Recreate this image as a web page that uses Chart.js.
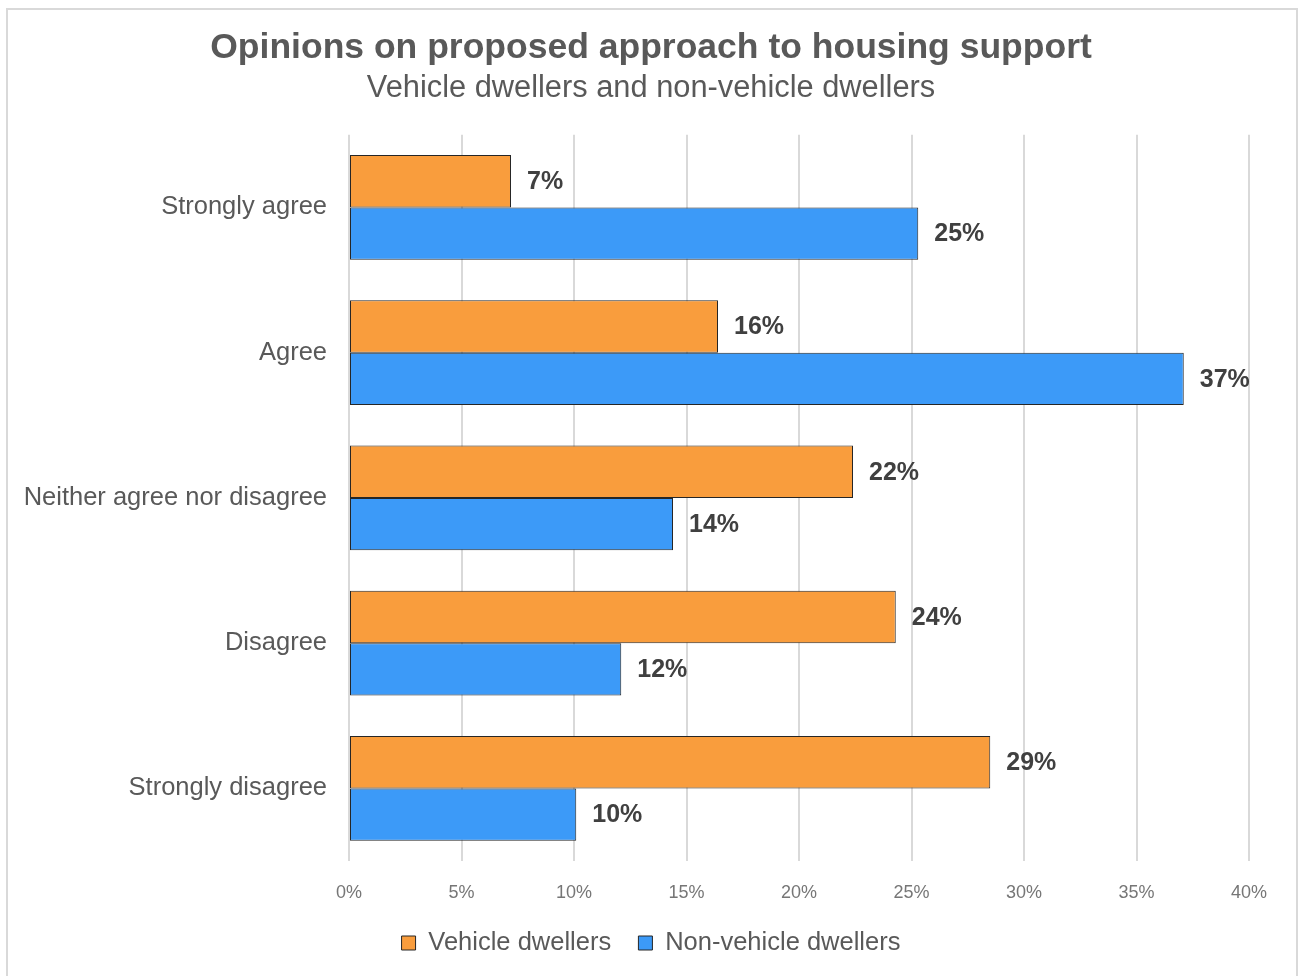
<!DOCTYPE html>
<html>
<head>
<meta charset="utf-8">
<script src="https://cdn.jsdelivr.net/npm/chart.js@4/dist/chart.umd.min.js"></script>
<style>
  html, body { margin: 0; padding: 0; background: #fff; }
  #frame {
    position: absolute; left: 6px; top: 8px;
    width: 1292px; height: 980px;
    box-sizing: border-box;
    border: 2px solid #d9d9d9;
  }
  #wrap { position: absolute; left: 0; top: 0; width: 1298px; height: 976px; }
</style>
</head>
<body>
<div id="frame"></div>
<div id="wrap"><canvas id="chart" width="1298" height="976"></canvas></div>
<script>
// answers and shares per group (percent)
const categories = ['Strongly agree', 'Agree', 'Neither agree nor disagree', 'Disagree', 'Strongly disagree'];
const vehicleDwellers = [7.2, 16.4, 22.4, 24.3, 28.5];
const nonVehicleDwellers = [25.3, 37.1, 14.4, 12.1, 10.1];
const xTicks = [0, 5, 10, 15, 20, 25, 30, 35, 40];

const FONT = "'Liberation Sans', Arial, sans-serif";
const GREY = '#595959';

// value labels at the end of each bar
const barLabels = {
  id: 'barLabels',
  afterDatasetsDraw(chart) {
    const ctx = chart.ctx;
    ctx.save();
    ctx.font = 'bold 25px ' + FONT;
    ctx.fillStyle = '#404040';
    ctx.textAlign = 'left';
    ctx.textBaseline = 'middle';
    chart.data.datasets.forEach((ds, i) => {
      chart.getDatasetMeta(i).data.forEach((bar, j) => {
        ctx.fillText(Math.round(ds.data[j]) + '%', bar.x + 16, bar.y + 1);
      });
    });
    ctx.restore();
  }
};

const ctx = document.getElementById('chart');
new Chart(ctx, {
  type: 'bar',
  data: {
    labels: categories,
    datasets: [
      {
        label: 'Vehicle dwellers',
        data: vehicleDwellers,
        backgroundColor: '#F99D3D',
        borderColor: '#262626',
        borderWidth: 1,
        borderSkipped: false,
      },
      {
        label: 'Non-vehicle dwellers',
        data: nonVehicleDwellers,
        backgroundColor: '#3C9AF8',
        borderColor: '#262626',
        borderWidth: 1,
        borderSkipped: false,
      },
    ],
  },
  options: {
    responsive: false,
    animation: false,
    indexAxis: 'y',
    categoryPercentage: 0.72,
    barPercentage: 1,
    layout: { padding: { top: 10, right: 0, bottom: 10.25, left: 4 } },
    scales: {
      x: {
        min: 0,
        max: 40,
        afterBuildTicks: (scale) => { scale.ticks = xTicks.map((v) => ({ value: v })); },
        afterFit: (scale) => { scale.height = 42; },
        ticks: {
          callback: (v) => v + '%',
          font: { family: FONT, size: 18 },
          color: '#767676',
          padding: 21,
        },
        grid: { color: '#d9d9d9', lineWidth: 2, drawTicks: false },
        border: { display: false },
      },
      y: {
        afterFit: (scale) => { scale.width = 345; },
        ticks: {
          font: { family: FONT, size: 25.5 },
          color: GREY,
          padding: 22,
        },
        grid: { display: false, drawTicks: false },
        border: { display: false },
      },
      // empty strip on the right so the plot ends before the frame edge
      yRight: {
        type: 'linear',
        position: 'right',
        afterFit: (scale) => { scale.width = 49; },
        ticks: { display: false },
        grid: { display: false, drawTicks: false },
        border: { display: false },
      },
    },
    plugins: {
      title: {
        display: true,
        text: 'Opinions on proposed approach to housing support',
        font: { family: FONT, size: 35.5, weight: 'bold' },
        color: GREY,
        padding: { top: 17.2, bottom: 0 },
      },
      subtitle: {
        display: true,
        text: 'Vehicle dwellers and non-vehicle dwellers',
        font: { family: FONT, size: 30.8 },
        color: GREY,
        padding: { top: 0.5, bottom: 27.5 },
      },
      legend: {
        position: 'bottom',
        labels: {
          boxWidth: 14,
          boxHeight: 14,
          padding: 27.25,
          font: { family: FONT, size: 25.5 },
          color: GREY,
        },
      },
      tooltip: { enabled: false },
    },
  },
  plugins: [barLabels],
});
</script>
</body>
</html>
